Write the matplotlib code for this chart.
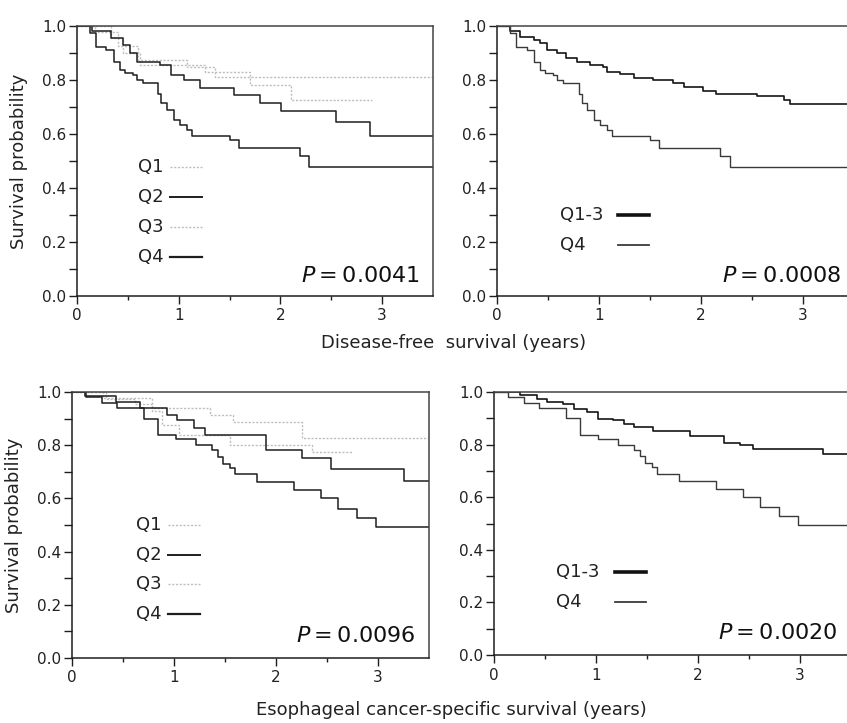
import matplotlib
matplotlib.use("Agg")
import matplotlib.pyplot as plt
import numpy as np

plt.rcParams['font.family'] = ['DejaVu Sans']

T_END = 3.5

# ---------------- Disease-free survival (top row) ----------------
dfs_q1_t = [0, 0.18, 0.40, 0.60, 1.08, 1.36]
dfs_q1_s = [1.0, 0.979, 0.926, 0.874, 0.849, 0.812]
dfs_q3_t = [0, 0.33, 0.45, 0.62, 1.26, 1.70, 2.10]
dfs_q3_s = [1.0, 0.954, 0.899, 0.856, 0.831, 0.781, 0.726]
dfs_q3_end = 2.9
dfs_q2_t = [0, 0.15, 0.33, 0.45, 0.52, 0.59, 0.82, 0.92, 1.05, 1.21, 1.54, 1.80, 2.01, 2.55, 2.88]
dfs_q2_s = [1.0, 0.98, 0.955, 0.93, 0.90, 0.868, 0.855, 0.818, 0.80, 0.769, 0.744, 0.716, 0.685, 0.643, 0.593]
dfs_q4_t = [0, 0.13, 0.19, 0.29, 0.36, 0.42, 0.47, 0.55, 0.59, 0.65, 0.80, 0.83, 0.88, 0.95, 1.01,
            1.08, 1.13, 1.50, 1.59, 2.19, 2.28]
dfs_q4_s = [1.0, 0.973, 0.923, 0.91, 0.868, 0.837, 0.827, 0.818, 0.80, 0.79, 0.75, 0.714, 0.689, 0.652,
            0.633, 0.615, 0.593, 0.578, 0.549, 0.519, 0.479]
dfs_q13_t = [0, 0.13, 0.23, 0.36, 0.42, 0.49, 0.59, 0.68, 0.78, 0.91, 1.04, 1.08, 1.21, 1.34, 1.53,
             1.73, 1.83, 2.02, 2.15, 2.55, 2.81, 2.87]
dfs_q13_s = [1.0, 0.98, 0.96, 0.948, 0.936, 0.911, 0.899, 0.88, 0.868, 0.855, 0.849, 0.831, 0.822,
             0.806, 0.80, 0.788, 0.775, 0.76, 0.748, 0.741, 0.726, 0.711]

# ---------------- Esophageal cancer-specific survival (bottom row) ----------------
css_q1_t = [0, 0.30, 0.78, 1.35, 1.58, 2.25]
css_q1_s = [1.0, 0.976, 0.938, 0.913, 0.888, 0.828]
css_q3_t = [0, 0.33, 0.62, 0.78, 0.88, 1.05, 1.55, 2.35]
css_q3_s = [1.0, 0.975, 0.955, 0.93, 0.875, 0.84, 0.80, 0.775]
css_q3_end = 2.75
css_q2_t = [0, 0.13, 0.43, 0.67, 0.93, 1.03, 1.20, 1.30, 1.90, 2.25, 2.54, 3.25]
css_q2_s = [1.0, 0.985, 0.962, 0.94, 0.915, 0.895, 0.866, 0.838, 0.783, 0.752, 0.712, 0.665]
css_q4_t = [0, 0.14, 0.29, 0.44, 0.71, 0.84, 1.02, 1.22, 1.37, 1.43, 1.48, 1.55, 1.60, 1.81, 2.18,
            2.44, 2.61, 2.79, 2.98]
css_q4_s = [1.0, 0.981, 0.959, 0.94, 0.90, 0.838, 0.823, 0.80, 0.781, 0.756, 0.731, 0.713, 0.69, 0.66,
            0.632, 0.60, 0.562, 0.528, 0.494]
css_q13_t = [0, 0.25, 0.42, 0.52, 0.68, 0.78, 0.91, 1.02, 1.17, 1.27, 1.37, 1.56, 1.92, 2.25, 2.41,
             2.54, 3.23]
css_q13_s = [1.0, 0.99, 0.972, 0.962, 0.953, 0.937, 0.924, 0.899, 0.892, 0.88, 0.867, 0.851, 0.832,
             0.806, 0.797, 0.785, 0.766]

p_values = ["0.0041", "0.0008", "0.0096", "0.0020"]
x_ticks = [0, 1, 2, 3]
y_ticks = [0.0, 0.2, 0.4, 0.6, 0.8, 1.0]
y_tick_labels = ["0.0", "0.2", "0.4", "0.6", "0.8", "1.0"]

DARK = "#1e1e1e"
DARK2 = "#3a3a3a"
LIGHT = "#bdbdbd"
LIGHT_LS = (0, (1.5, 1.2))

W, H = 847, 723
fig = plt.figure(figsize=(W / 100, H / 100), dpi=100)


def px_axes(left, top, right, bottom):
    return fig.add_axes([left / W, (H - bottom) / H, (right - left) / W, (bottom - top) / H])


def km(ax, t, s, end=T_END, **kw):
    tt = list(t) + [end]
    ss = list(s) + [s[-1]]
    ax.step(tt, ss, where="post", **kw)


def style(ax):
    ax.set_xlim(0, T_END)
    ax.set_ylim(0, 1.0)
    ax.set_xticks(x_ticks)
    ax.set_xticks([0.5, 1.5, 2.5], minor=True)
    ax.set_yticks(y_ticks)
    ax.set_yticklabels(y_tick_labels)
    ax.set_yticks([0.1, 0.3, 0.5, 0.7, 0.9], minor=True)
    ax.tick_params(axis="both", which="both", direction="out", color=DARK, width=1.0,
                   labelsize=11, labelcolor="#222222")
    ax.tick_params(axis="y", which="both", length=6, pad=1.5)
    ax.tick_params(axis="x", which="major", length=6, pad=3)
    ax.tick_params(axis="x", which="minor", length=3)
    for sp in ax.spines.values():
        sp.set_linewidth(1.1)
        sp.set_color(DARK)
    ax.spines["right"].set_color("#444444")
    ax.spines["top"].set_color("#444444")


def legend4(ax, x0, y0, dy):
    entries = [("Q1", dict(color=LIGHT, lw=1.0, ls=LIGHT_LS)),
               ("Q2", dict(color=DARK, lw=1.4)),
               ("Q3", dict(color=LIGHT, lw=1.0, ls=LIGHT_LS)),
               ("Q4", dict(color=DARK, lw=1.6))]
    for i, (lab, kw) in enumerate(entries):
        y = y0 - i * dy
        ax.text(x0, y, lab, transform=ax.transAxes, fontsize=13, va="center", ha="left", color="#222222")
        ax.plot([x0 + 0.09, x0 + 0.178], [y, y], transform=ax.transAxes, clip_on=False, **kw)


def legend2(ax, x0, y0, dy):
    entries = [("Q1-3", dict(color="#111111", lw=2.6)),
               ("Q4", dict(color=DARK2, lw=1.3))]
    for i, (lab, kw) in enumerate(entries):
        y = y0 - i * dy
        ax.text(x0, y, lab, transform=ax.transAxes, fontsize=13, va="center", ha="left", color="#222222")
        ax.plot([x0 + 0.163, x0 + 0.25], [y, y], transform=ax.transAxes, clip_on=False, **kw)


def pval(ax, p, y):
    ax.text(0.963, y, r"$P$" + "\u2009=\u2009" + p, transform=ax.transAxes, fontsize=16, ha="right",
            va="center", color="#111111")


# Top-left
ax1 = px_axes(77, 26, 433, 296)
km(ax1, dfs_q1_t, dfs_q1_s, color=LIGHT, lw=1.0, ls=LIGHT_LS)
km(ax1, dfs_q3_t, dfs_q3_s, end=dfs_q3_end, color=LIGHT, lw=1.0, ls=LIGHT_LS)
km(ax1, dfs_q2_t, dfs_q2_s, color=DARK, lw=1.1)
km(ax1, dfs_q4_t, dfs_q4_s, color=DARK, lw=1.1)
style(ax1)
ax1.set_ylabel("Survival probability", fontsize=13, labelpad=10, color="#222222")
legend4(ax1, 0.172, 0.479, 0.112)
pval(ax1, p_values[0], 0.073)

# Top-right
ax2 = px_axes(497, 26, 854, 296)
km(ax2, dfs_q13_t, dfs_q13_s, color="#151515", lw=1.2)
km(ax2, dfs_q4_t, dfs_q4_s, color=DARK2, lw=1.0)
style(ax2)
legend2(ax2, 0.177, 0.30, 0.111)
pval(ax2, p_values[1], 0.074)

# Bottom-left
ax3 = px_axes(72, 392, 429, 658)
km(ax3, css_q1_t, css_q1_s, color=LIGHT, lw=1.0, ls=LIGHT_LS)
km(ax3, css_q3_t, css_q3_s, end=css_q3_end, color=LIGHT, lw=1.0, ls=LIGHT_LS)
km(ax3, css_q2_t, css_q2_s, color=DARK, lw=1.1)
km(ax3, css_q4_t, css_q4_s, color=DARK, lw=1.1)
style(ax3)
ax3.set_ylabel("Survival probability", fontsize=13, labelpad=10, color="#222222")
legend4(ax3, 0.18, 0.50, 0.111)
pval(ax3, p_values[2], 0.081)

# Bottom-right
ax4 = px_axes(494, 392, 851, 655)
km(ax4, css_q13_t, css_q13_s, color="#151515", lw=1.2)
km(ax4, css_q4_t, css_q4_s, color=DARK2, lw=1.0)
style(ax4)
legend2(ax4, 0.175, 0.316, 0.113)
pval(ax4, p_values[3], 0.082)

fig.text(454 / W, 1 - 343 / H, "Disease-free  survival (years)", fontsize=13, ha="center", va="center",
         color="#222222")
fig.text(451 / W, 1 - 710 / H, "Esophageal cancer-specific survival (years)", fontsize=13, ha="center",
         va="center", color="#222222")

fig.savefig("out.png", dpi=100, facecolor="white")
